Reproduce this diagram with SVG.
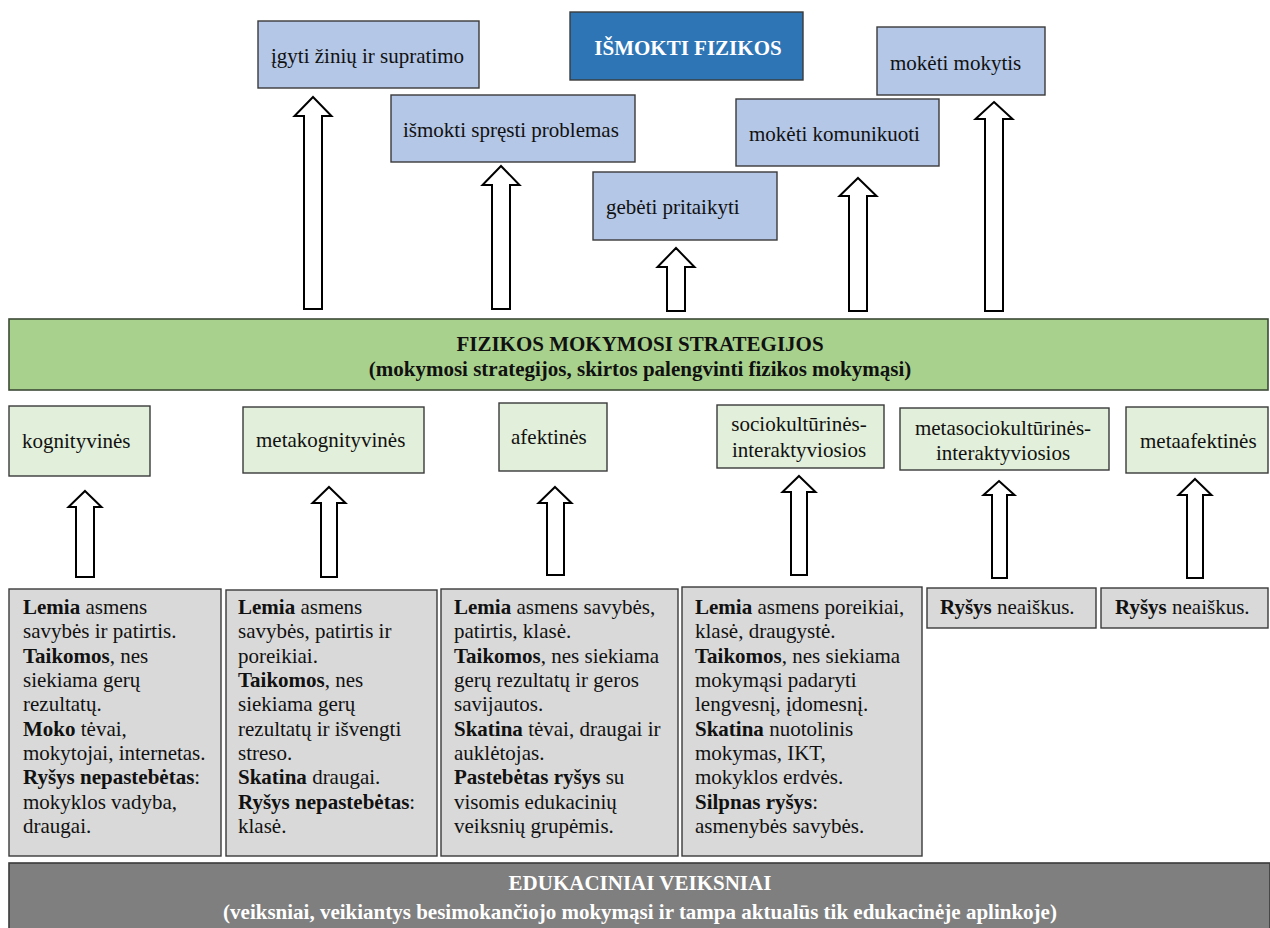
<svg xmlns="http://www.w3.org/2000/svg" width="1270" height="928" viewBox="0 0 1270 928">
  <style>
    text { font-family: "Liberation Serif", "Times New Roman", serif; font-size: 21px; fill: #111; }
    .b { font-weight: bold; }
    .goal { fill: #B4C7E7; stroke: #3a3a3a; stroke-width: 1.4; }
    .main { fill: #2E75B6; stroke: #3a3a3a; stroke-width: 1.4; }
    .band { fill: #A9D18E; stroke: #3d4a36; stroke-width: 1.6; }
    .kind { fill: #E2EFDA; stroke: #3a3a3a; stroke-width: 1.4; }
    .note { fill: #D9D9D9; stroke: #3a3a3a; stroke-width: 1.4; }
    .base { fill: #7F7F7F; stroke: #3a3a3a; stroke-width: 1.6; }
    .white { fill: #ffffff; }
    .arrow { fill: #ffffff; stroke: #000; stroke-width: 2; stroke-linejoin: miter; }
    .c { text-anchor: middle; }
  </style>

  <!-- connectors: hollow block arrows -->
  <g id="connectors">
    <polygon class="arrow" points="313,97 331.5,116 322,116 322,309 304,309 304,116 294.5,116"/>
    <polygon class="arrow" points="501,166 519.5,185 510,185 510,309 492,309 492,185 482.5,185"/>
    <polygon class="arrow" points="676,248 694.5,267 685,267 685,311 667,311 667,267 657.5,267"/>
    <polygon class="arrow" points="858,178 876.5,196 867,196 867,311 849,311 849,196 839.5,196"/>
    <polygon class="arrow" points="994,102 1012.5,119 1003,119 1003,311 985,311 985,119 975.5,119"/>

    <polygon class="arrow" points="85,491 101.5,507 94,507 94,577 76,577 76,507 68.5,507"/>
    <polygon class="arrow" points="329,487 345.5,503 337,503 337,577 321,577 321,503 312.5,503"/>
    <polygon class="arrow" points="555,487 571.5,503 564,503 564,575 547,575 547,503 538.5,503"/>
    <polygon class="arrow" points="799,476 815.5,492 807,492 807,575 791,575 791,492 782.5,492"/>
    <polygon class="arrow" points="999,481 1014.5,495 1007,495 1007,578 992,578 992,495 983.5,495"/>
    <polygon class="arrow" points="1195,479 1211.5,495 1203,495 1203,578 1187,578 1187,495 1178.5,495"/>
  </g>

  <!-- goals -->
  <g id="goal-knowledge">
    <rect class="goal" x="258" y="21" width="221" height="67"/>
    <text x="271" y="63">įgyti žinių ir supratimo</text>
  </g>
  <g id="goal-main">
    <rect class="main" x="570" y="12" width="233" height="68"/>
    <text class="b white c" x="688" y="55">IŠMOKTI FIZIKOS</text>
  </g>
  <g id="goal-problems">
    <rect class="goal" x="391" y="95" width="244" height="67"/>
    <text x="403" y="137">išmokti spręsti problemas</text>
  </g>
  <g id="goal-apply">
    <rect class="goal" x="593" y="172" width="184" height="68"/>
    <text x="606" y="214">gebėti pritaikyti</text>
  </g>
  <g id="goal-communicate">
    <rect class="goal" x="736" y="99" width="203" height="67"/>
    <text x="749" y="141">mokėti komunikuoti</text>
  </g>
  <g id="goal-learn">
    <rect class="goal" x="877" y="27" width="168" height="68"/>
    <text x="890" y="70">mokėti mokytis</text>
  </g>

  <!-- strategies band -->
  <g id="strategies">
    <rect class="band" x="9" y="319" width="1259" height="71"/>
    <text class="b c" x="640" y="351">FIZIKOS MOKYMOSI STRATEGIJOS</text>
    <text class="b c" x="640" y="376">(mokymosi strategijos, skirtos palengvinti fizikos mokymąsi)</text>
  </g>

  <!-- strategy kinds -->
  <g id="kind-cognitive">
    <rect class="kind" x="9" y="406" width="141" height="70"/>
    <text x="22" y="448">kognityvinės</text>
  </g>
  <g id="kind-metacognitive">
    <rect class="kind" x="243" y="407" width="181" height="66"/>
    <text x="256" y="447">metakognityvinės</text>
  </g>
  <g id="kind-affective">
    <rect class="kind" x="499" y="403" width="108" height="68"/>
    <text x="511" y="444">afektinės</text>
  </g>
  <g id="kind-sociocultural">
    <rect class="kind" x="717" y="405" width="167" height="63"/>
    <text class="c" x="799" y="431">sociokultūrinės-</text>
    <text class="c" x="799" y="457">interaktyviosios</text>
  </g>
  <g id="kind-metasociocultural">
    <rect class="kind" x="900" y="408" width="209" height="62"/>
    <text class="c" x="1003" y="435">metasociokultūrinės-</text>
    <text class="c" x="1003" y="460">interaktyviosios</text>
  </g>
  <g id="kind-metaaffective">
    <rect class="kind" x="1126" y="407" width="142" height="66"/>
    <text x="1140" y="448">metaafektinės</text>
  </g>

  <!-- factor notes -->
  <g id="note-cognitive">
    <rect class="note" x="9" y="589" width="212" height="267"/>
    <text x="23" y="614"><tspan class="b">Lemia</tspan> asmens</text>
    <text x="23" y="638">savybės ir patirtis.</text>
    <text x="23" y="663"><tspan class="b">Taikomos</tspan>, nes</text>
    <text x="23" y="687">siekiama gerų</text>
    <text x="23" y="711">rezultatų.</text>
    <text x="23" y="736"><tspan class="b">Moko</tspan> tėvai,</text>
    <text x="23" y="760">mokytojai, internetas.</text>
    <text x="23" y="784"><tspan class="b">Ryšys nepastebėtas</tspan>:</text>
    <text x="23" y="809">mokyklos vadyba,</text>
    <text x="23" y="833">draugai.</text>
  </g>
  <g id="note-metacognitive">
    <rect class="note" x="226" y="590" width="211" height="266"/>
    <text x="238" y="614"><tspan class="b">Lemia</tspan> asmens</text>
    <text x="238" y="638">savybės, patirtis ir</text>
    <text x="238" y="663">poreikiai.</text>
    <text x="238" y="687"><tspan class="b">Taikomos</tspan>, nes</text>
    <text x="238" y="711">siekiama gerų</text>
    <text x="238" y="736">rezultatų ir išvengti</text>
    <text x="238" y="760">streso.</text>
    <text x="238" y="784"><tspan class="b">Skatina</tspan> draugai.</text>
    <text x="238" y="809"><tspan class="b">Ryšys nepastebėtas</tspan>:</text>
    <text x="238" y="833">klasė.</text>
  </g>
  <g id="note-affective">
    <rect class="note" x="441" y="589" width="237" height="267"/>
    <text x="454" y="614"><tspan class="b">Lemia</tspan> asmens savybės,</text>
    <text x="454" y="638">patirtis, klasė.</text>
    <text x="454" y="663"><tspan class="b">Taikomos</tspan>, nes siekiama</text>
    <text x="454" y="687">gerų rezultatų ir geros</text>
    <text x="454" y="711">savijautos.</text>
    <text x="454" y="736"><tspan class="b">Skatina</tspan> tėvai, draugai ir</text>
    <text x="454" y="760">auklėtojas.</text>
    <text x="454" y="784"><tspan class="b">Pastebėtas ryšys</tspan> su</text>
    <text x="454" y="809">visomis edukacinių</text>
    <text x="454" y="833">veiksnių grupėmis.</text>
  </g>
  <g id="note-sociocultural">
    <rect class="note" x="682" y="587" width="240" height="269"/>
    <text x="695" y="614"><tspan class="b">Lemia</tspan> asmens poreikiai,</text>
    <text x="695" y="638">klasė, draugystė.</text>
    <text x="695" y="663"><tspan class="b">Taikomos</tspan>, nes siekiama</text>
    <text x="695" y="687">mokymąsi padaryti</text>
    <text x="695" y="711">lengvesnį, įdomesnį.</text>
    <text x="695" y="736"><tspan class="b">Skatina</tspan> nuotolinis</text>
    <text x="695" y="760">mokymas, IKT,</text>
    <text x="695" y="784">mokyklos erdvės.</text>
    <text x="695" y="809"><tspan class="b">Silpnas ryšys</tspan>:</text>
    <text x="695" y="833">asmenybės savybės.</text>
  </g>
  <g id="note-metasociocultural">
    <rect class="note" x="927" y="588" width="169" height="40"/>
    <text x="940" y="614"><tspan class="b">Ryšys</tspan> neaiškus.</text>
  </g>
  <g id="note-metaaffective">
    <rect class="note" x="1101" y="588" width="167" height="40"/>
    <text x="1115" y="614"><tspan class="b">Ryšys</tspan> neaiškus.</text>
  </g>

  <!-- educational factors base -->
  <g id="educational-factors">
    <rect class="base" x="9" y="863" width="1261" height="70"/>
    <text class="b white c" x="640" y="890">EDUKACINIAI VEIKSNIAI</text>
    <text class="b white c" x="640" y="919">(veiksniai, veikiantys besimokančiojo mokymąsi ir tampa aktualūs tik edukacinėje aplinkoje)</text>
  </g>
</svg>
